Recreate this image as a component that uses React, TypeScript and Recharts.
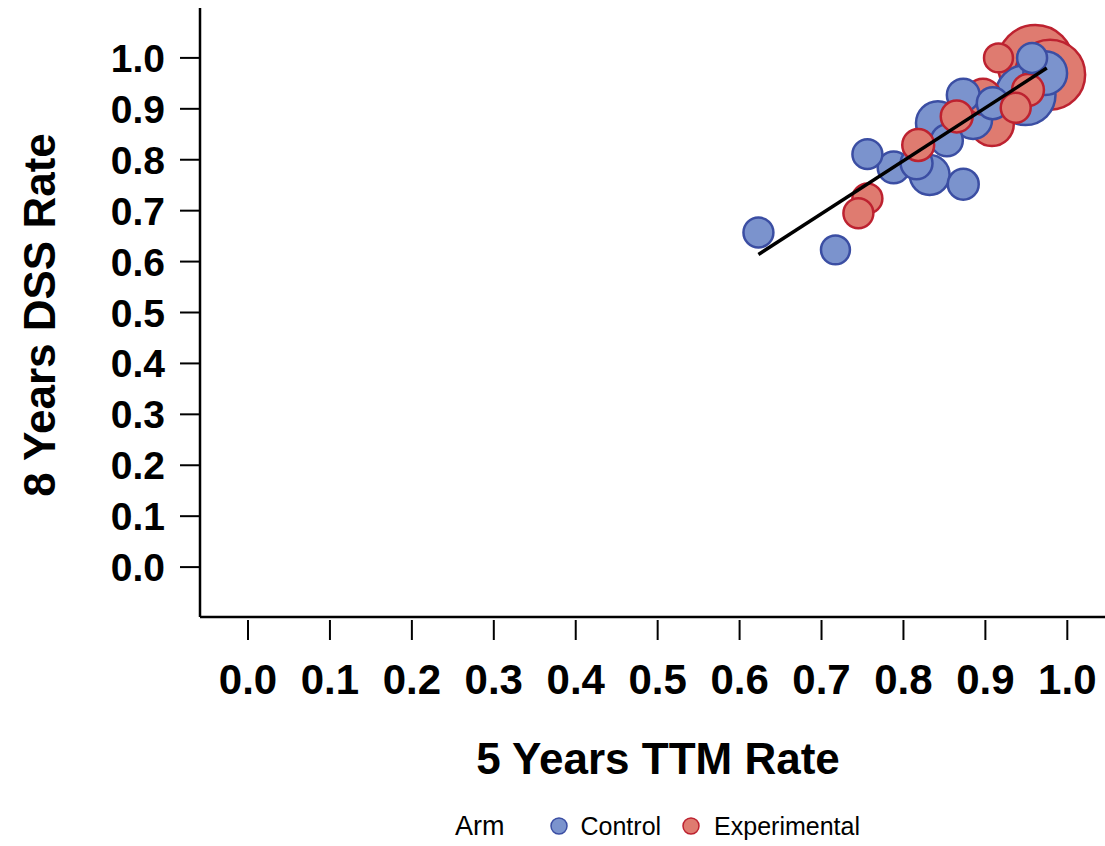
import React from "react";
import { ScatterChart, Scatter, XAxis, YAxis, ZAxis, Cell } from "recharts";

// Trial-level rates per arm: 5-year TTM rate (x), 8-year DSS rate (y), patients (n)
const controlTTM = [0.623, 0.717, 0.756, 0.788, 0.816, 0.832, 0.873, 0.853, 0.842, 0.873, 0.885, 0.909, 0.957, 0.973, 0.949];
const controlDSS = [0.657, 0.623, 0.811, 0.785, 0.793, 0.770, 0.752, 0.838, 0.872, 0.927, 0.878, 0.911, 1.0, 0.970, 0.927];
const controlN = [150, 140, 150, 170, 170, 265, 160, 170, 320, 180, 240, 170, 150, 320, 600];

const experimentalTTM = [0.756, 0.745, 0.818, 0.865, 0.908, 0.897, 0.937, 0.952, 0.916, 0.961, 0.979];
const experimentalDSS = [0.724, 0.695, 0.829, 0.885, 0.870, 0.924, 0.902, 0.937, 1.0, 0.990, 0.967];
const experimentalN = [150, 150, 170, 170, 320, 215, 150, 170, 140, 965, 820];

// Least-squares fit across all trials (end points of the drawn segment)
const fitTTM = [0.623, 0.975];
const fitDSS = [0.614, 0.98];

const xTicks = [0, 0.1, 0.2, 0.3, 0.4, 0.5, 0.6, 0.7, 0.8, 0.9, 1.0];
const yTicks = [0, 0.1, 0.2, 0.3, 0.4, 0.5, 0.6, 0.7, 0.8, 0.9, 1.0];

const armStyle: Record<string, { fill: string; stroke: string }> = {
  Control: { fill: "#7b93cd", stroke: "#3b4ea3" },
  Experimental: { fill: "#df7b70", stroke: "#bd2230" },
};

// Bubbles drawn largest first so small trials stay visible on top
const points = [
  ...controlTTM.map((x, i) => ({ x, y: controlDSS[i], n: controlN[i], arm: "Control" })),
  ...experimentalTTM.map((x, i) => ({ x, y: experimentalDSS[i], n: experimentalN[i], arm: "Experimental" })),
].sort((a, b) => b.n - a.n);

const fitLine = fitTTM.map((x, i) => ({ x, y: fitDSS[i] }));

const FONT = "'Liberation Sans', Arial, Helvetica, sans-serif";

const XTick = (props: any) => {
  const { x, y, payload } = props;
  return (
    <g>
      <line x1={x} x2={x} y1={y + 3} y2={y + 23} stroke="#000" strokeWidth={2} />
      <text x={x} y={y + 77} textAnchor="middle" fontFamily={FONT} fontWeight="bold" fontSize={42} fill="#000">
        {Number(payload.value).toFixed(1)}
      </text>
    </g>
  );
};

const YTick = (props: any) => {
  const { x, y, payload } = props;
  return (
    <g>
      <line x1={x - 20} x2={x} y1={y} y2={y} stroke="#000" strokeWidth={2} />
      <text x={x - 35} y={y + 14} textAnchor="end" fontFamily={FONT} fontWeight="bold" fontSize={39} fill="#000">
        {Number(payload.value).toFixed(1)}
      </text>
    </g>
  );
};

const LegendDot = ({ arm }: { arm: string }) => (
  <svg width={20} height={20} style={{ verticalAlign: "middle" }}>
    <circle cx={10} cy={10} r={8} fill={armStyle[arm].fill} stroke={armStyle[arm].stroke} strokeWidth={1.5} />
  </svg>
);

export default function App() {
  return (
    <div style={{ position: "absolute", left: 0, top: 0, width: 1105, height: 846, background: "#fff" }}>
      <ScatterChart width={1105} height={846} margin={{ top: 8, right: 0, left: 0, bottom: 0 }}>
        <XAxis
          type="number"
          dataKey="x"
          domain={[-0.0586, 1.046]}
          ticks={xTicks}
          allowDataOverflow
          height={229}
          tickSize={0}
          tickMargin={0}
          tickLine={false}
          tick={<XTick />}
          axisLine={{ stroke: "#000", strokeWidth: 2.5 }}
          interval={0}
        />
        <YAxis
          type="number"
          dataKey="y"
          domain={[-0.098, 1.098]}
          ticks={yTicks}
          allowDataOverflow
          width={200}
          tickSize={0}
          tickMargin={0}
          tickLine={false}
          tick={<YTick />}
          axisLine={{ stroke: "#000", strokeWidth: 2.5 }}
          interval={0}
        />
        <ZAxis type="number" dataKey="n" domain={[0, 1070]} range={[0, 5027]} />
        <Scatter data={points} isAnimationActive={false} shape="circle">
          {points.map((p, i) => (
            <Cell key={i} fill={armStyle[p.arm].fill} stroke={armStyle[p.arm].stroke} strokeWidth={2.5} />
          ))}
        </Scatter>
        <Scatter
          data={fitLine}
          isAnimationActive={false}
          line={{ stroke: "#000", strokeWidth: 3.5 }}
          shape={() => <g />}
          legendType="none"
        />
      </ScatterChart>

      <div
        style={{
          position: "absolute", left: 0, top: 0, width: 80, height: 630,
          display: "flex", alignItems: "center", justifyContent: "center",
        }}
      >
        <div
          style={{
            transform: "rotate(-90deg)", whiteSpace: "nowrap", fontFamily: FONT,
            fontWeight: "bold", fontSize: 44, color: "#000",
          }}
        >
          8 Years DSS Rate
        </div>
      </div>

      <div
        style={{
          position: "absolute", left: 200, width: 916, top: 732, textAlign: "center",
          fontFamily: FONT, fontWeight: "bold", fontSize: 44, color: "#000", lineHeight: "54px",
        }}
      >
        5 Years TTM Rate
      </div>

      <div
        style={{
          position: "absolute", left: 455, top: 810, fontFamily: FONT, fontSize: 25,
          color: "#000", whiteSpace: "nowrap", lineHeight: "32px", display: "flex", alignItems: "center",
        }}
      >
        <span style={{ marginRight: 44, fontSize: 27 }}>Arm</span>
        <LegendDot arm="Control" />
        <span style={{ marginLeft: 12, marginRight: 20 }}>Control</span>
        <LegendDot arm="Experimental" />
        <span style={{ marginLeft: 13 }}>Experimental</span>
      </div>
    </div>
  );
}
